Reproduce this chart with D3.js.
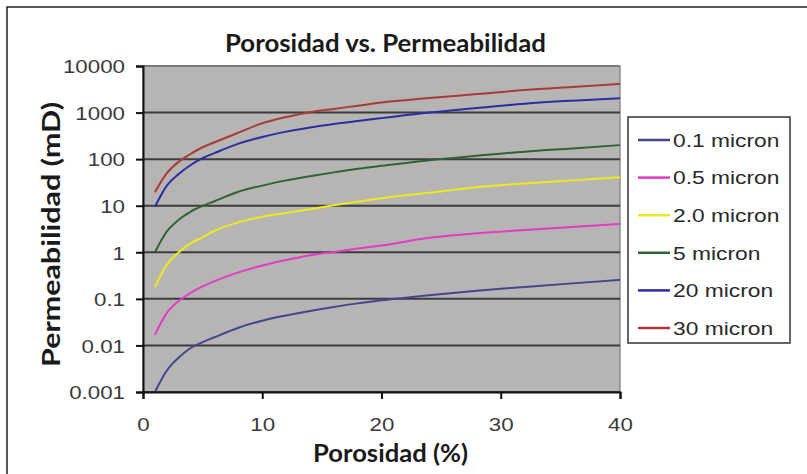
<!DOCTYPE html>
<html>
<head>
<meta charset="utf-8">
<script src="https://cdn.jsdelivr.net/npm/d3@7"></script>
<style>
  html, body { margin: 0; padding: 0; background: #fff; }
  svg { display: block; }
</style>
</head>
<body>
<svg id="chart" width="807" height="474"></svg>
<script>
// ---- Data ----
const porosity = [1, 2, 3, 4, 5, 6, 8, 10, 12, 14, 16, 18, 20, 24, 28, 32, 36, 40];
const seriesNames = ["0.1 micron", "0.5 micron", "2.0 micron", "5 micron", "20 micron", "30 micron"];
const perm01  = [0.001, 0.0029, 0.0055, 0.0088, 0.0118, 0.015, 0.024, 0.034, 0.044, 0.055, 0.067, 0.08, 0.093, 0.12, 0.15, 0.18, 0.215, 0.254];
const perm05  = [0.017, 0.05, 0.09, 0.135, 0.185, 0.24, 0.37, 0.52, 0.68, 0.86, 1.02, 1.2, 1.4, 2.05, 2.55, 3.0, 3.5, 4.05];
const perm20  = [0.18, 0.55, 1.0, 1.55, 2.1, 2.9, 4.4, 5.8, 7.0, 8.4, 10.2, 12.2, 14.5, 19, 25, 30, 35, 41];
const perm5   = [1.0, 2.8, 5.0, 7.5, 10, 12.5, 20, 27, 35, 43, 52, 62, 72, 95, 118, 145, 170, 200];
const perm20m = [9.5, 27, 48, 75, 105, 135, 215, 300, 390, 480, 570, 660, 760, 1000, 1250, 1550, 1800, 2030];
const perm30m = [19.5, 50, 88, 130, 180, 230, 370, 590, 800, 1020, 1200, 1400, 1650, 2050, 2500, 3050, 3550, 4100];
const seriesValues = [perm01, perm05, perm20, perm5, perm20m, perm30m];
const seriesColors = ["#45458f", "#e03cc4", "#eaea1e", "#2f6238", "#2c2ca6", "#aa3a3a"];
const yTickValues = [10000, 1000, 100, 10, 1, 0.1, 0.01, 0.001];
const yTickLabels = ["10000", "1000", "100", "10", "1", "0.1", "0.01", "0.001"];
const xTickValues = [0, 10, 20, 30, 40];
const xTickLabels = ["0", "10", "20", "30", "40"];
const titleText = "Porosidad vs. Permeabilidad";
const xTitle = "Porosidad (%)";
const yTitle = "Permeabilidad (mD)";

// ---- Layout ----
const svg = d3.select("#chart");
const L = 143, R = 620, T = 66, B = 392;
const x = d3.scaleLinear().domain([0, 40]).range([L, R]);
const y = d3.scaleLog().domain([0.001, 10000]).range([B, T]);
const stretch = 1.24;
const tickFont = "'Liberation Sans', Arial, sans-serif";
const boldFont = "Lato, 'Open Sans', sans-serif";

function stretchText(sel, k) {
  sel.each(function() {
    const len = this.getComputedTextLength();
    d3.select(this).attr("textLength", len * k).attr("lengthAdjust", "spacingAndGlyphs");
  });
}

// outer frame
svg.append("rect").attr("x", 7).attr("y", 7).attr("width", 830).attr("height", 500)
  .attr("fill", "#fff").attr("stroke", "#222").attr("stroke-width", 1.5);

// plot background
svg.append("rect").attr("x", L).attr("y", T).attr("width", R - L).attr("height", B - T)
  .attr("fill", "#b7b5b3").attr("stroke", "#8e8c8a").attr("stroke-width", 1.5);

// gridlines
svg.append("g").selectAll("line").data(yTickValues).join("line")
  .attr("x1", L).attr("x2", R)
  .attr("y1", d => y(d)).attr("y2", d => y(d))
  .attr("stroke", d => d === 10000 ? "#7c7a78" : "#3c3c3c").attr("stroke-width", 2);

// series lines
const line = d3.line().x(d => x(d[0])).y(d => y(d[1])).curve(d3.curveMonotoneX);
seriesValues.forEach((vals, i) => {
  svg.append("path")
    .datum(porosity.map((p, j) => [p, vals[j]]))
    .attr("fill", "none").attr("stroke", seriesColors[i]).attr("stroke-width", 2)
    .attr("d", line);
});

// y axis
const yAxis = svg.append("g").attr("transform", `translate(${L},0)`)
  .call(d3.axisLeft(y).tickValues(yTickValues).tickSize(7).tickPadding(11)
    .tickFormat((d, i) => yTickLabels[i]));
yAxis.select(".domain").attr("stroke", "#111").attr("stroke-width", 2);
yAxis.selectAll(".tick line").attr("stroke", "#111").attr("stroke-width", 2);
yAxis.selectAll(".tick text").attr("font-family", tickFont).attr("font-size", 18)
  .attr("fill", "#3a3a3a").attr("dy", "0.38em").call(stretchText, stretch);

// x axis
const xAxis = svg.append("g").attr("transform", `translate(0,${B})`)
  .call(d3.axisBottom(x).tickValues(xTickValues).tickSize(7).tickPadding(19)
    .tickFormat((d, i) => xTickLabels[i]));
xAxis.select(".domain").attr("stroke", "#111").attr("stroke-width", 2);
xAxis.selectAll(".tick line").attr("stroke", "#111").attr("stroke-width", 2);
xAxis.selectAll(".tick text").attr("font-family", tickFont).attr("font-size", 18)
  .attr("fill", "#3a3a3a").call(stretchText, stretch);

// titles
svg.append("text").attr("x", 385.5).attr("y", 52).attr("text-anchor", "middle")
  .attr("font-family", boldFont).attr("font-weight", "bold").attr("font-size", 24)
  .attr("fill", "#1a1a1a").attr("textLength", 321).attr("lengthAdjust", "spacingAndGlyphs")
  .text(titleText);
svg.append("text").attr("x", 390.5).attr("y", 462).attr("text-anchor", "middle")
  .attr("font-family", boldFont).attr("font-weight", "bold").attr("font-size", 24)
  .attr("fill", "#1a1a1a").attr("textLength", 155).attr("lengthAdjust", "spacingAndGlyphs")
  .text(xTitle);
svg.append("text").attr("transform", "translate(60,234.5) rotate(-90)")
  .attr("text-anchor", "middle")
  .attr("font-family", boldFont).attr("font-weight", "bold").attr("font-size", 24)
  .attr("fill", "#1a1a1a").attr("textLength", 265).attr("lengthAdjust", "spacingAndGlyphs")
  .text(yTitle);

// legend
const legend = svg.append("g");
legend.append("rect").attr("x", 628).attr("y", 117).attr("width", 162).attr("height", 226)
  .attr("fill", "#fff").attr("stroke", "#333").attr("stroke-width", 1.5);
const items = legend.selectAll("g.item").data(seriesNames).join("g").attr("class", "item")
  .attr("transform", (d, i) => `translate(0,${140 + i * 37.6})`);
items.append("line").attr("x1", 638).attr("x2", 670).attr("y1", 0).attr("y2", 0)
  .attr("stroke", (d, i) => seriesColors[i]).attr("stroke-width", 2.5);
items.append("text").attr("x", 673).attr("y", 0).attr("dy", "0.36em")
  .attr("font-family", tickFont).attr("font-size", 19).attr("fill", "#2a2a2a")
  .text(d => d).call(stretchText, 1.2);
</script>
</body>
</html>
